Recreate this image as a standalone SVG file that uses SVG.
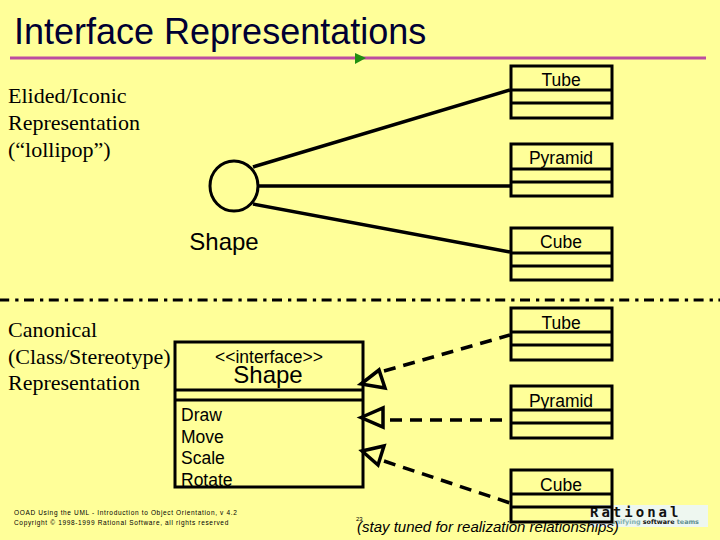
<svg xmlns="http://www.w3.org/2000/svg" width="720" height="540" viewBox="0 0 720 540">
<style>
.box{fill:none;stroke:#000;stroke-width:3}
.line{fill:none;stroke:#000;stroke-width:3.5}
.dash{fill:none;stroke:#000;stroke-width:3.5;stroke-dasharray:12 8}
.head{fill:none;stroke:#000;stroke-width:3.5;stroke-linejoin:miter}
.sans{font-family:"Liberation Sans",Arial,sans-serif;fill:#000}
.serif{font-family:"Liberation Serif","Times New Roman",serif;fill:#000;font-size:22px}
.cls{font-size:17.500px;text-anchor:middle}
.op{font-size:17.500px}
.foot{font-size:6.500px;letter-spacing:.66px}
</style>
<rect width="720" height="540" fill="#ffff99"/>
<text class="sans" x="14" y="44" font-size="36" style="fill:#000033">Interface Representations</text>
<line x1="10" y1="58" x2="706" y2="58" stroke="#bc4ca0" stroke-width="3"/>
<polygon points="355,53 366,58 355,64" fill="#209010"/>
<line id="divider" x1="0" y1="300" x2="720" y2="300" stroke="#000" stroke-width="3" stroke-dasharray="10 6 3.300 5.500" stroke-dashoffset="0.800"/>
<g id="label-elided" class="serif"><text x="8" y="103">Elided/Iconic</text><text x="8" y="130">Representation</text><text x="8" y="157">(“lollipop”)</text></g>
<g id="label-canonical" class="serif"><text x="8" y="337">Canonical</text><text x="8" y="364">(Class/Stereotype)</text><text x="8" y="390">Representation</text></g>
<g id="connectors">
<line class="line" x1="253" y1="167" x2="510" y2="90"/>
<line class="line" x1="259" y1="186" x2="510" y2="186"/>
<line class="line" x1="253" y1="204" x2="510" y2="252"/>
<line class="dash" x1="384" y1="371" x2="510" y2="335"/>
<line class="dash" x1="390" y1="420" x2="510" y2="420"/>
<line class="dash" x1="384" y1="461" x2="510" y2="503"/>
<polygon class="head" points="361,384 379,370 385,388"/>
<polygon class="head" points="361,417.500 383,408 383,427"/>
<polygon class="head" points="362,451 384,446 378,465"/>
</g>
<g id="lollipop"><ellipse class="box" cx="234" cy="186" rx="24" ry="25"/><text class="sans" x="224" y="250" font-size="24" text-anchor="middle">Shape</text></g>
<g id="logo"><rect x="590" y="505" width="118" height="22" fill="#eef7f0"/><text x="590" y="517" font-family="'DejaVu Sans Mono',monospace" font-size="14" font-weight="bold" letter-spacing="3" fill="#111">Rational</text><text x="611" y="524" font-family="'DejaVu Sans',sans-serif" font-size="6.400" font-weight="bold" fill="#111"><tspan fill="#7fb0b0">unifying</tspan> software <tspan fill="#5f9090">teams</tspan></text></g>
<g id="tube-top"><rect class="box" x="511" y="66" width="101" height="52"/><line class="box" x1="511" y1="90" x2="612" y2="90"/><line class="box" x1="511" y1="103" x2="612" y2="103"/><text class="sans cls" x="561" y="86">Tube</text></g>
<g id="pyramid-top"><rect class="box" x="511" y="144" width="101" height="52"/><line class="box" x1="511" y1="169" x2="612" y2="169"/><line class="box" x1="511" y1="182" x2="612" y2="182"/><text class="sans cls" x="561" y="164">Pyramid</text></g>
<g id="cube-top"><rect class="box" x="511" y="228" width="101" height="52"/><line class="box" x1="511" y1="253" x2="612" y2="253"/><line class="box" x1="511" y1="266" x2="612" y2="266"/><text class="sans cls" x="561" y="248">Cube</text></g>
<g id="tube-bottom"><rect class="box" x="511" y="308" width="101" height="52"/><line class="box" x1="511" y1="332" x2="612" y2="332"/><line class="box" x1="511" y1="345" x2="612" y2="345"/><text class="sans cls" x="561" y="329">Tube</text></g>
<g id="pyramid-bottom"><rect class="box" x="511" y="386" width="101" height="52"/><line class="box" x1="511" y1="410" x2="612" y2="410"/><line class="box" x1="511" y1="423" x2="612" y2="423"/><text class="sans cls" x="561" y="407">Pyramid</text></g>
<g id="cube-bottom"><rect class="box" x="511" y="470" width="101" height="52"/><line class="box" x1="511" y1="494" x2="612" y2="494"/><line class="box" x1="511" y1="507" x2="612" y2="507"/><text class="sans cls" x="561" y="491">Cube</text></g>
<g id="interface-shape"><rect class="box" x="175" y="342" width="188" height="145"/><line class="box" x1="175" y1="390" x2="363" y2="390"/><line class="box" x1="175" y1="400" x2="363" y2="400"/>
<text class="sans" x="269" y="363" font-size="17.500" text-anchor="middle">&lt;&lt;interface&gt;&gt;</text><text class="sans" x="268" y="383" font-size="24" text-anchor="middle">Shape</text>
<text class="sans op" x="181" y="421">Draw</text><text class="sans op" x="181" y="443">Move</text><text class="sans op" x="181" y="464">Scale</text><text class="sans op" x="181" y="486">Rotate</text></g>
<g id="footer"><text class="sans foot" x="14" y="515">OOAD Using the UML - Introduction to Object Orientation, v 4.2</text><text class="sans foot" x="14" y="525">Copyright © 1998-1999 Rational Software, all rights reserved</text></g>
<text class="sans" x="356" y="521" font-size="6">23</text>
<text class="sans" x="357" y="532" font-size="15" font-style="italic" fill="#222">(stay tuned for realization relationships)</text>
</svg>
